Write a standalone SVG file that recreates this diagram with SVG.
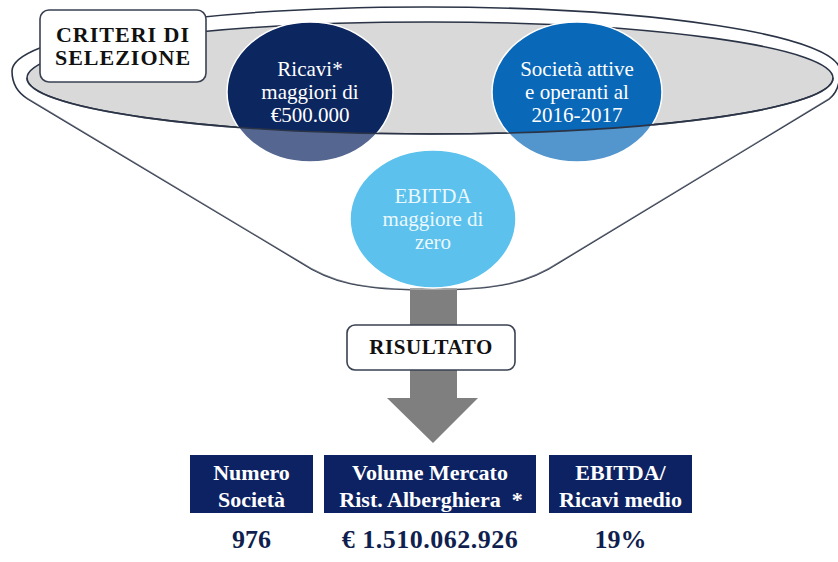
<svg xmlns="http://www.w3.org/2000/svg" width="838" height="562" viewBox="0 0 838 562">
  <defs>
    <style>
      .line { fill: none; stroke: #2b3446; stroke-width: 1.6; }
      .label-box { fill: #ffffff; stroke: #3a4150; stroke-width: 1.6; }
      .label-text { font-weight: bold; fill: #111111; text-anchor: middle; }
      .circle-text { font-size: 21px; fill: #ffffff; text-anchor: middle; }
      .box { fill: #0d2262; }
      .box-text { font-weight: bold; font-size: 22px; fill: #ffffff; text-anchor: middle; }
      .num-text { font-weight: bold; font-size: 26px; fill: #101f4f; text-anchor: middle; }
    </style>
  </defs>
  <rect x="0" y="0" width="838" height="562" fill="#ffffff"/>

  <g id="funnel">
    <path d="M 12,71 A 414 64 0 0 1 840,71 C 840,84 836,94 829,99 L 560,262 C 530,282 500,290 430,290 C 360,290 330,282 300,262 L 28,99 C 18,93 12,83 12,71 Z" fill="#ffffff" stroke="#2b3446" stroke-width="1.6"/>
    <ellipse cx="430" cy="78" rx="403" ry="56" fill="#d9d9d9" stroke="#2b3446" stroke-width="1.6"/>
  </g>

  <g id="arrow">
    <polygon points="410,288 457,288 457,398 478,398 433,443 387,398 410,398" fill="#7f7f7f"/>
  </g>

  <g id="node-ricavi">
    <ellipse cx="310" cy="92" rx="83" ry="70" fill="#0c2660" stroke="#ffffff" stroke-width="1.5"/>
  </g>
  <g id="node-societa">
    <ellipse cx="577" cy="92" rx="85" ry="70" fill="#0a68b8" stroke="#ffffff" stroke-width="1.5"/>
  </g>
  <g id="node-ebitda">
    <ellipse cx="433" cy="219" rx="83" ry="69" fill="#16a8e6" stroke="#ffffff" stroke-width="1.5"/>
  </g>

  <g id="funnel-front">
    <path d="M 27,78 A 403 56 0 0 0 833,78 C 836,85 834,95 829,99 L 560,262 C 530,282 500,290 430,290 C 360,290 330,282 300,262 L 28,99 C 22,95 24,85 27,78 Z" fill="#ffffff" fill-opacity="0.3"/>
    <path class="line" d="M 27,78 A 403 56 0 0 0 833,78"/>
  </g>

  <g id="circle-labels" font-family="Liberation Serif, DejaVu Serif, serif">
    <text class="circle-text" x="310" y="76">Ricavi*</text>
    <text class="circle-text" x="310" y="99">maggiori di</text>
    <text class="circle-text" x="310" y="122">€500.000</text>
    <text class="circle-text" x="577" y="76">Società attive</text>
    <text class="circle-text" x="577" y="99">e operanti al</text>
    <text class="circle-text" x="577" y="122">2016-2017</text>
    <text class="circle-text" x="433" y="203" fill-opacity="0.9">EBITDA</text>
    <text class="circle-text" x="433" y="226" fill-opacity="0.9">maggiore di</text>
    <text class="circle-text" x="433" y="249" fill-opacity="0.9">zero</text>
  </g>

  <g id="node-criteri" font-family="Liberation Serif, DejaVu Serif, serif">
    <rect class="label-box" x="40" y="10" width="166" height="72" rx="9"/>
    <text class="label-text" x="123" y="42" font-size="22" letter-spacing="1">CRITERI DI</text>
    <text class="label-text" x="123" y="65" font-size="22" letter-spacing="1">SELEZIONE</text>
  </g>

  <g id="node-risultato" font-family="Liberation Serif, DejaVu Serif, serif">
    <rect class="label-box" x="347" y="325" width="168" height="45" rx="8"/>
    <text class="label-text" x="431" y="354" font-size="21" letter-spacing="0.6">RISULTATO</text>
  </g>

  <g id="node-numero" font-family="Liberation Serif, DejaVu Serif, serif">
    <rect class="box" x="190" y="455" width="123" height="58"/>
    <text class="box-text" x="251.5" y="480">Numero</text>
    <text class="box-text" x="251.5" y="507">Società</text>
    <text class="num-text" x="251.5" y="548">976</text>
  </g>
  <g id="node-volume" font-family="Liberation Serif, DejaVu Serif, serif">
    <rect class="box" x="324" y="455" width="212" height="58"/>
    <text class="box-text" x="430" y="480">Volume Mercato</text>
    <text class="box-text" x="431" y="507" xml:space="preserve">Rist. Alberghiera  *</text>
    <text class="num-text" x="430" y="548" letter-spacing="0.5">€ 1.510.062.926</text>
  </g>
  <g id="node-ebitda-ricavi" font-family="Liberation Serif, DejaVu Serif, serif">
    <rect class="box" x="549" y="455" width="143" height="58"/>
    <text class="box-text" x="620.5" y="480">EBITDA/</text>
    <text class="box-text" x="620.5" y="507">Ricavi medio</text>
    <text class="num-text" x="620.5" y="548">19%</text>
  </g>

  <g id="connectors"/>
</svg>
